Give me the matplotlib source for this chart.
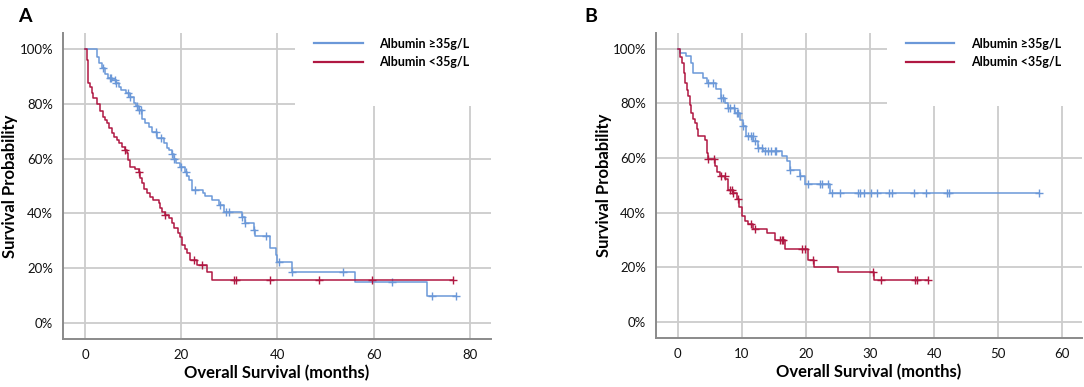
import matplotlib
matplotlib.use("Agg")
import matplotlib.pyplot as plt
from matplotlib.patches import Rectangle

plt.rcParams['font.family'] = ['Lato', 'DejaVu Sans']

# ---- data (months, survival %) ----
labels = ["Albumin \u226535g/L", "Albumin <35g/L"]

# panel A, albumin >= 35
a_hi_t = [0, 2.4, 2.9, 3.5, 4.2, 4.8, 5.5, 6.5, 7.0, 7.5, 8.5, 9.4, 10.1, 10.6, 11.1, 11.8,
          12.5, 13.2, 14.0, 14.9, 16.3, 17.0, 17.4, 18.0, 18.4, 19.0, 19.8, 20.8, 21.2, 21.5,
          22.2, 24.6, 25.0, 26.4, 27.8, 28.8, 32.6, 33.3, 35.1, 35.3, 38.5, 39.6, 39.9, 43.0,
          56.2, 71.0, 77.2]
a_hi_s = [100, 97, 95, 93, 91, 89.5, 88.7, 87.5, 86, 85, 84, 82.6, 80.2, 79, 77.7, 74.5,
          73, 71.6, 69.5, 67.4, 65.5, 64, 63, 61.5, 60, 58.5, 57, 55, 53.5, 52.2,
          48.5, 47.5, 46.5, 45, 43, 40.5, 38.5, 36.5, 34, 31.6, 27.3, 24.8, 22.3, 18.7,
          15.0, 9.9, 9.9]
a_hi_cens = [3.7, 5.1, 5.3, 6.25, 6.5, 9.0, 9.4, 10.8, 11.3, 11.7, 14.8, 15.8, 18.1, 18.4,
             20.0, 21.0, 22.9, 28.1, 29.3, 30.0, 32.6, 33.3, 35.1, 37.6, 40.4, 43.0,
             53.7, 63.75, 72.1, 77.2]

# panel A, albumin < 35
a_lo_t = [0, 0.3, 0.5, 0.7, 1.0, 1.4, 1.7, 2.4, 3.1, 3.8, 4.1, 4.5, 5.0, 5.6, 6.1, 6.6, 7.1,
          7.6, 8.2, 8.7, 9.0, 9.4, 10.3, 11.1, 11.5, 11.8, 12.3, 12.8, 13.5, 14.2, 15.3, 15.6,
          16.0, 16.7, 17.4, 18.0, 18.4, 19.3, 19.8, 20.1, 20.7, 21.2, 21.9, 23.3, 25.3, 26.4, 76.5]
a_lo_s = [100, 96, 92, 87.5, 86, 84, 82, 80, 77.5, 75.3, 74, 72.9, 71, 69.2, 68, 66.8, 65.5,
          64.3, 63, 61.9, 59.5, 57, 56, 55.2, 53, 51, 49, 47.3, 46, 44.9, 43.6, 42,
          40.6, 39.4, 38.2, 36.4, 34.5, 33, 31.5, 28.5, 27, 25.4, 23, 21.2, 18.7, 15.7, 15.7]
a_lo_cens = [8.3, 11.3, 16.7, 22.7, 24.3, 30.9, 31.4, 38.4, 48.7, 59.6, 76.5]

# panel B, albumin >= 35
b_hi_t = [0, 0.3, 1.35, 2.1, 2.4, 3.95, 4.5, 6.0, 6.8, 7.4, 7.9, 8.9, 9.7, 10.2, 10.7, 11.8,
          12.5, 13.3, 16.2, 17.0, 17.5, 19.1, 19.8, 23.75, 56.4]
b_hi_s = [100, 98.5, 97.2, 94.8, 91.1, 89.5, 87.5, 85.4, 82, 80.3, 78.4, 76.5, 74, 71.6, 68,
          66.2, 63.7, 62.5, 60.7, 58.9, 55.8, 53.4, 50.4, 47.3, 47.3]
b_hi_cens = [4.7, 5.5, 6.8, 7.1, 7.9, 8.1, 8.7, 9.2, 9.4, 10.2, 11.0, 11.5, 11.7, 12.0, 12.5,
             13.2, 13.6, 14.1, 14.6, 15.2, 15.4, 17.5, 19.1, 20.4, 22.2, 22.5, 23.5, 24.1,
             25.3, 28.1, 28.5, 29.1, 30.1, 31.1, 33.0, 33.4, 36.9, 38.8, 42.1, 42.3, 56.4]

# panel B, albumin < 35
b_lo_t = [0, 0.3, 0.6, 0.9, 1.1, 1.4, 1.6, 1.9, 2.1, 2.4, 2.7, 3.0, 3.2, 4.2, 4.5, 4.6, 4.7,
          5.8, 6.2, 6.6, 7.4, 7.9, 8.6, 9.2, 9.6, 9.95, 10.5, 11.0, 11.8, 13.9, 15.2, 16.7,
          20.4, 21.25, 25.0, 30.7, 39.1]
b_lo_s = [100, 97, 94.8, 91, 87.5, 85, 82.6, 79.5, 76.5, 74.5, 72.9, 70.5, 68, 66.8, 64.3, 62,
          59.5, 57, 55, 53.4, 52.2, 48.5, 47.3, 44.9, 42.2, 38.8, 37, 35.8, 33.9, 32.7, 30.0,
          26.6, 22.7, 20.3, 18.4, 15.4, 15.4]
b_lo_cens = [4.7, 5.7, 6.8, 7.3, 8.1, 8.4, 8.6, 9.4, 11.4, 12.0, 15.9, 16.2, 16.5, 19.4,
             19.8, 21.1, 30.4, 31.7, 37.1, 37.3, 39.1]

blue = "#6b98d8"
red = "#b01842"


def surv_at(tt, ss, c):
    v = ss[0]
    for t, s in zip(tt, ss):
        if t <= c:
            v = s
    return v


def km_panel(ax, curves, xlim, xticks, letter, letter_x):
    ax.set_axisbelow(True)
    for (tt, ss, cens), col, lab in zip(curves, [blue, red], labels):
        ax.step(tt, ss, where="post", color=col, lw=1.1, label=lab, zorder=3)
        cy = [surv_at(tt, ss, c) for c in cens]
        ax.plot(cens, cy, ls="none", marker="+", ms=6, mew=1.0, color=col, zorder=3)
    ax.set_xlim(*xlim)
    ax.set_ylim(-5.84, 105.8)
    ax.set_xticks(xticks)
    ax.set_yticks([0, 20, 40, 60, 80, 100])
    ax.set_yticklabels(["0%", "20%", "40%", "60%", "80%", "100%"])
    ax.grid(True, color="#cccccc", lw=1.3)
    for s in ["top", "right"]:
        ax.spines[s].set_visible(False)
    for s in ["left", "bottom"]:
        ax.spines[s].set_color("#8a8a8a")
        ax.spines[s].set_linewidth(1.4)
    ax.tick_params(length=0, pad=7, labelsize=9.5, labelcolor="#111111")
    ax.set_xlabel("Overall Survival (months)", fontsize=12, fontweight="bold")
    ax.set_ylabel("Survival Probability", fontsize=12, fontweight="bold")
    ax.xaxis.set_label_coords(0.5, -0.085)
    ax.yaxis.set_label_coords(-0.104, 0.5)
    # white box behind legend, hides grid like in the original
    ax.add_patch(Rectangle((0.542, 0.76), 0.47, 0.25, transform=ax.transAxes,
                           facecolor="white", edgecolor="none", zorder=1, clip_on=False))
    leg = ax.legend(loc="upper left", bbox_to_anchor=(0.586, 0.985), frameon=False,
                    borderpad=0, borderaxespad=0, handlelength=3.9, handletextpad=1.3,
                    labelspacing=0.55, prop={"size": 9, "weight": "bold"})
    for h in leg.get_lines():
        h.set_linewidth(1.6)
    ax.figure.text(letter_x, 0.958, letter, fontsize=14, fontweight="bold",
                   ha="left", va="center")


fig = plt.figure(figsize=(10.84, 3.87), dpi=100)
axA = fig.add_axes([63 / 1084, 48 / 387, 428 / 1084, 306 / 387])
axB = fig.add_axes([656 / 1084, 49 / 387, 426 / 1084, 305 / 387])

km_panel(axA, [(a_hi_t, a_hi_s, a_hi_cens), (a_lo_t, a_lo_s, a_lo_cens)],
         (-4.6, 84.4), [0, 20, 40, 60, 80], "A", 18 / 1084)
km_panel(axB, [(b_hi_t, b_hi_s, b_hi_cens), (b_lo_t, b_lo_s, b_lo_cens)],
         (-3.4, 63.1), [0, 10, 20, 30, 40, 50, 60], "B", 584 / 1084)

fig.savefig("out.png", dpi=100)
